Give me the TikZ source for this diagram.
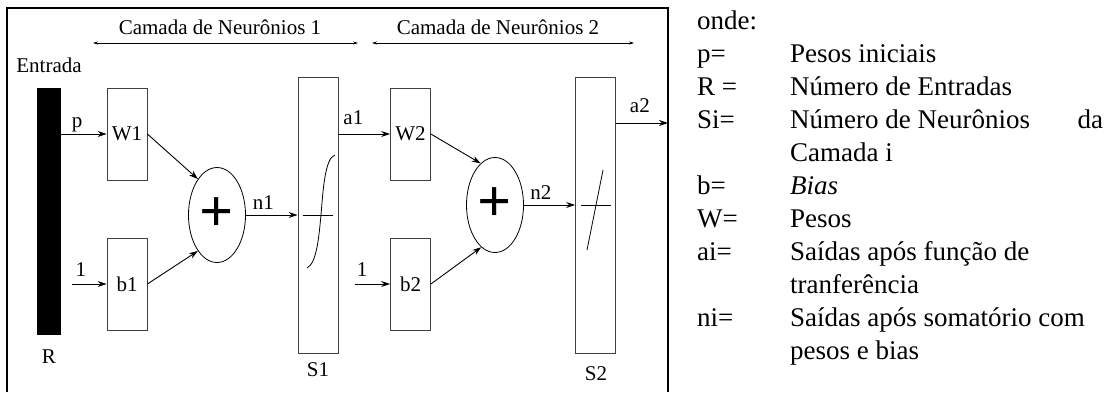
\documentclass[tikz,border=0pt]{standalone}
\usepackage{fontspec}
\setmainfont{Liberation Serif}
\usetikzlibrary{arrows.meta,positioning,shapes.geometric,calc}
\newcommand\lblfont{\fontsize{21}{25}\selectfont}
\newcommand\legfont{\fontsize{27}{33}\selectfont}
\newcommand\plusmark{\fontsize{60}{60}\selectfont\bfseries +}
\tikzset{
  lbl/.style={font=\lblfont, inner sep=1pt},
  blk/.style={draw=black!75, line width=0.8pt, minimum width=40pt, minimum height=92pt, inner sep=0pt, font=\lblfont},
  tall/.style={draw=black!75, line width=0.8pt, minimum width=40pt, minimum height=276pt, inner sep=0pt},
  sumnode/.style={draw, ellipse, line width=0.8pt, minimum width=57pt, minimum height=95pt, inner sep=0pt},
  arr/.style={-{Stealth[length=9pt,width=6pt]}, line width=0.9pt},
  layerspan/.style={{Stealth[length=5pt,width=3pt]}-{Stealth[length=5pt,width=3pt]}, line width=0.6pt},
}
\begin{document}
\begin{tikzpicture}[x=1pt,y=-1pt]
  \useasboundingbox (0,0) rectangle (1110,392);
  % frame
  \draw[line width=2.2pt] (7,392) -- (7,8) -- (668,8) -- (668,392);

  % layer spans
  \node[lbl] (lay1) at (220,27) {Camada de Neurônios 1};
  \node[lbl] (lay2) at (498,27) {Camada de Neurônios 2};
  \coordinate (l1a) at (93,43);
  \coordinate (l1b) at (358,43);
  \coordinate (l2a) at (372,43);
  \coordinate (l2b) at (634,43);
  \draw[layerspan] (l1a) -- (l1b);
  \draw[layerspan] (l2a) -- (l2b);

  % input
  \node[lbl] (inlbl) at (49,65) {Entrada};
  \node[fill=black, minimum width=24pt, minimum height=247pt, inner sep=0pt] (inbar) at (49,211.5) {};
  \node[lbl] (rlbl) at (49,357) {R};

  % layer 1
  \node[blk] (w1) at (127,134) {W1};
  \node[blk] (b1) at (127,284) {b1};
  \node[sumnode] (sum1) at (217,215) {\plusmark};
  \node[tall] (s1) at (318,215) {};
  \node[lbl] (s1lbl) at (318,370) {S1};

  % layer 2
  \node[blk] (w2) at (410.5,134) {W2};
  \node[blk] (b2) at (410.5,284) {b2};
  \node[sumnode] (sum2) at (495,205) {\plusmark};
  \node[tall] (s2) at (595.5,215) {};
  \node[lbl] (s2lbl) at (596,374) {S2};

  \coordinate (one1) at (72,284);
  \coordinate (one2) at (355,284);
  \coordinate (out2) at (668,123);

  % connectors
  \draw[arr] (inbar.east |- w1.west) -- node[lbl,above=1pt,pos=0.35] (plbl) {p} (w1.west);
  \draw[arr] (one1) -- node[lbl,above=6pt,pos=0.26] (o1lbl) {1} (b1.west);
  \draw[arr] (w1.east) -- (sum1.118);
  \draw[arr] (b1.east) -- (sum1.242);
  \draw[arr] (sum1.east) -- node[lbl,above=4pt,pos=0.34] (n1lbl) {n1} (sum1.east -| s1.west);
  \draw[arr] (w2.west -| s1.east) -- node[lbl,above=8pt,pos=0.29] (a1lbl) {a1} (w2.west);
  \draw[arr] (one2) -- node[lbl,above=6pt,pos=0.2] (o2lbl) {1} (b2.west);
  \draw[arr] (w2.east) -- (sum2.109);
  \draw[arr] (b2.east) -- (sum2.252);
  \draw[arr] (sum2.east) -- node[lbl,above=4pt,pos=0.33] (n2lbl) {n2} (sum2.east -| s2.west);
  \draw[arr] (out2 -| s2.east) -- node[lbl,above=9pt,pos=0.46] (a2lbl) {a2} (out2);

  % transfer functions
  \begin{scope}[shift={(s1.center)}, line width=0.8pt]
    \draw (-15,0) -- (15,0);
    \draw (-11,53) .. controls (-1,48) and (1,20) .. (3,0) .. controls (5,-25) and (7,-57) .. (17,-60);
  \end{scope}
  \begin{scope}[shift={(s2.center)}, line width=0.8pt]
    \draw (-14.5,-10) -- (15.5,-10);
    \draw (-8.5,35) -- (7.5,-45);
  \end{scope}

  % legend
  \foreach \k/\key/\txt [evaluate=\k as \yb using 29+33*\k] in {
      0/onde:/{},
      1/p=/Pesos iniciais,
      2/R =/Número de Entradas,
      3/Si=/\hbox to 313pt{Número de Neurônios\hfill da},
      4//Camada i,
      5/b=/\textit{Bias},
      6/W=/Pesos,
      7/ai=/Saídas após função de,
      8//tranferência,
      9/ni=/Saídas após somatório com,
      10//pesos e bias} {
    \node[anchor=base west, inner sep=0pt, font=\legfont] (legk\k) at (697,\yb) {\key};
    \node[anchor=base west, inner sep=0pt, font=\legfont] (legt\k) at (790,\yb) {\txt};
  }
\end{tikzpicture}
\end{document}
